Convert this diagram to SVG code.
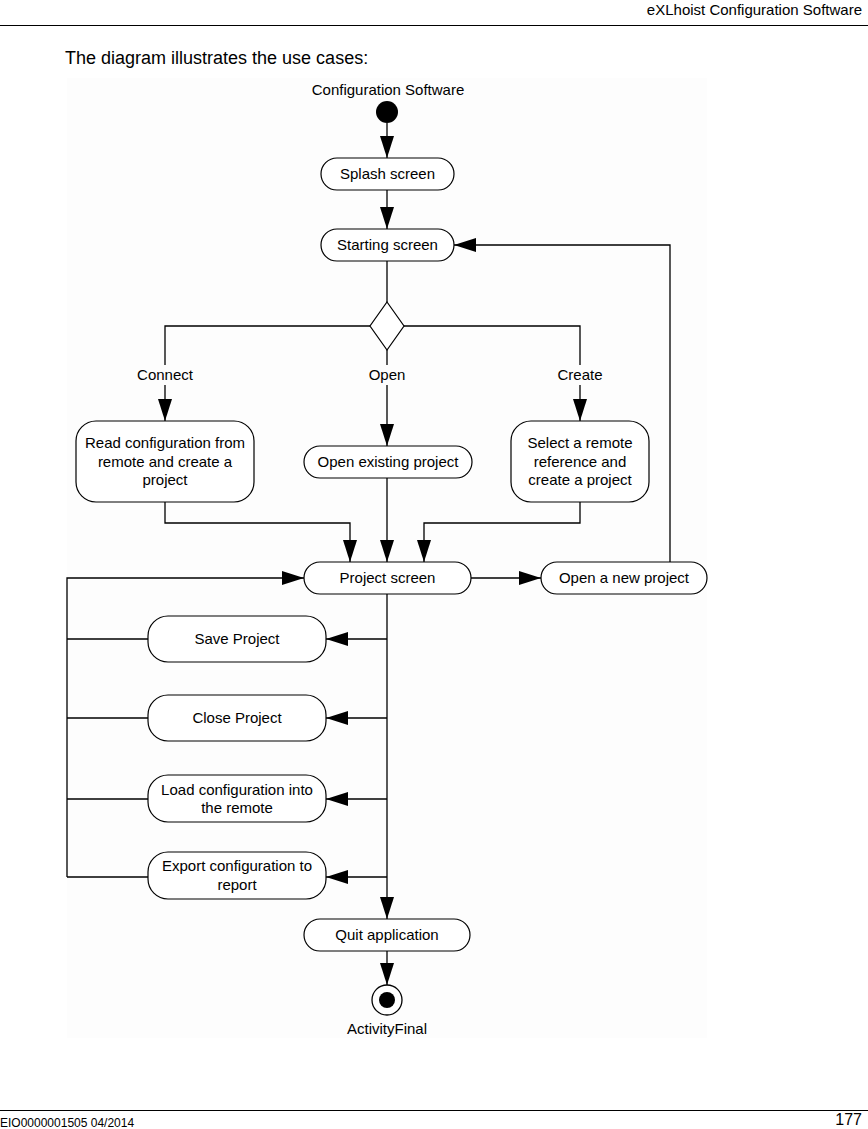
<svg xmlns="http://www.w3.org/2000/svg" width="868" height="1129" viewBox="0 0 868 1129">
<defs>
<style>
text{font-family:"Liberation Sans",Arial,sans-serif;fill:#000}
.n{fill:#fff;stroke:#000;stroke-width:1.2}
.t{font-size:15px;text-anchor:middle}
.c{fill:none;stroke:#000;stroke-width:1.3}
.lbl{font-size:15px;text-anchor:middle}
</style>
<marker id="ah" markerUnits="userSpaceOnUse" markerWidth="24" markerHeight="16" viewBox="0 0 24 16" refX="22" refY="8" orient="auto">
<path d="M0,1 L22,8 L0,15 Z" fill="#000"/>
</marker>
</defs>
<rect width="868" height="1129" fill="#fff"/>
<text x="862" y="15" font-size="15" text-anchor="end">eXLhoist Configuration Software</text>
<line x1="0" y1="25.5" x2="868" y2="25.5" stroke="#000" stroke-width="1.2"/>
<text x="65" y="64" font-size="18">The diagram illustrates the use cases:</text>
<rect x="67" y="78" width="640" height="960" fill="#fdfdfd"/>
<line x1="0" y1="1110.5" x2="868" y2="1110.5" stroke="#000" stroke-width="1.2"/>
<text x="0" y="1127" font-size="12">EIO0000001505 04/2014</text>
<text x="862" y="1125" font-size="16" text-anchor="end">177</text>

<g id="connectors">
<path class="c" d="M387,123 V158" marker-end="url(#ah)"/>
<path class="c" d="M387,190 V229" marker-end="url(#ah)"/>
<path class="c" d="M387,261 V302"/>
<path class="c" d="M370,326 H165 V365 M165,385 V421" marker-end="url(#ah)"/>
<path class="c" d="M404,326 H580 V365 M580,385 V421" marker-end="url(#ah)"/>
<path class="c" d="M387,350 V365 M387,385 V446" marker-end="url(#ah)"/>
<path class="c" d="M165,502 V523 H350 V562" marker-end="url(#ah)"/>
<path class="c" d="M387,478 V562" marker-end="url(#ah)"/>
<path class="c" d="M580,502 V523 H424 V562" marker-end="url(#ah)"/>
<path class="c" d="M471,578 H541" marker-end="url(#ah)"/>
<path class="c" d="M670,562 V245 H454" marker-end="url(#ah)"/>
<path class="c" d="M387,594 V919" marker-end="url(#ah)"/>
<path class="c" d="M387,639 H326" marker-end="url(#ah)"/>
<path class="c" d="M387,718 H326" marker-end="url(#ah)"/>
<path class="c" d="M387,799 H326" marker-end="url(#ah)"/>
<path class="c" d="M387,877 H326" marker-end="url(#ah)"/>
<path class="c" d="M148,639 H67 M148,718 H67 M148,799 H67 M148,877 H67"/>
<path class="c" d="M67,877 V578 H304" marker-end="url(#ah)"/>
<path class="c" d="M387,951 V985" marker-end="url(#ah)"/>
<text class="lbl" x="165" y="380">Connect</text>
<text class="lbl" x="387" y="380">Open</text>
<text class="lbl" x="580" y="380">Create</text>
</g>

<g id="start">
<text class="t" x="388" y="95">Configuration Software</text>
<circle cx="387" cy="112" r="11" fill="#000"/>
</g>
<g id="splash">
<rect class="n" x="321" y="158" width="133" height="32" rx="16"/>
<text class="t" x="387.5" y="179">Splash screen</text>
</g>
<g id="starting">
<rect class="n" x="321" y="229" width="133" height="32" rx="16"/>
<text class="t" x="387.5" y="250">Starting screen</text>
</g>
<g id="decision">
<path class="n" d="M387,302 L404,326 L387,350 L370,326 Z"/>
</g>
<g id="read">
<rect class="n" x="76" y="421" width="178" height="81" rx="20"/>
<text class="t" x="165" y="448">Read configuration from</text>
<text class="t" x="165" y="467">remote and create a</text>
<text class="t" x="165" y="485">project</text>
</g>
<g id="openexisting">
<rect class="n" x="304" y="446" width="168" height="32" rx="16"/>
<text class="t" x="388" y="467">Open existing project</text>
</g>
<g id="select">
<rect class="n" x="511" y="421" width="138" height="81" rx="20"/>
<text class="t" x="580" y="448">Select a remote</text>
<text class="t" x="580" y="467">reference and</text>
<text class="t" x="580" y="485">create a project</text>
</g>
<g id="project">
<rect class="n" x="304" y="562" width="167" height="32" rx="16"/>
<text class="t" x="387.5" y="583">Project screen</text>
</g>
<g id="opennew">
<rect class="n" x="541" y="562" width="166" height="32" rx="16"/>
<text class="t" x="624" y="583">Open a new project</text>
</g>
<g id="save">
<rect class="n" x="148" y="616" width="178" height="46" rx="20"/>
<text class="t" x="237" y="644">Save Project</text>
</g>
<g id="close">
<rect class="n" x="148" y="695" width="178" height="46" rx="20"/>
<text class="t" x="237" y="723">Close Project</text>
</g>
<g id="load">
<rect class="n" x="148" y="775" width="178" height="47" rx="20"/>
<text class="t" x="237" y="795">Load configuration into</text>
<text class="t" x="237" y="813">the remote</text>
</g>
<g id="export">
<rect class="n" x="148" y="852" width="178" height="47" rx="20"/>
<text class="t" x="237" y="871">Export configuration to</text>
<text class="t" x="237" y="890">report</text>
</g>
<g id="quit">
<rect class="n" x="304" y="919" width="166" height="32" rx="16"/>
<text class="t" x="387" y="940">Quit application</text>
</g>
<g id="final">
<circle cx="387" cy="1000" r="15" fill="#fff" stroke="#000" stroke-width="1.3"/>
<circle cx="387" cy="1000" r="8" fill="#000"/>
<text class="t" x="387" y="1034">ActivityFinal</text>
</g>
</svg>
